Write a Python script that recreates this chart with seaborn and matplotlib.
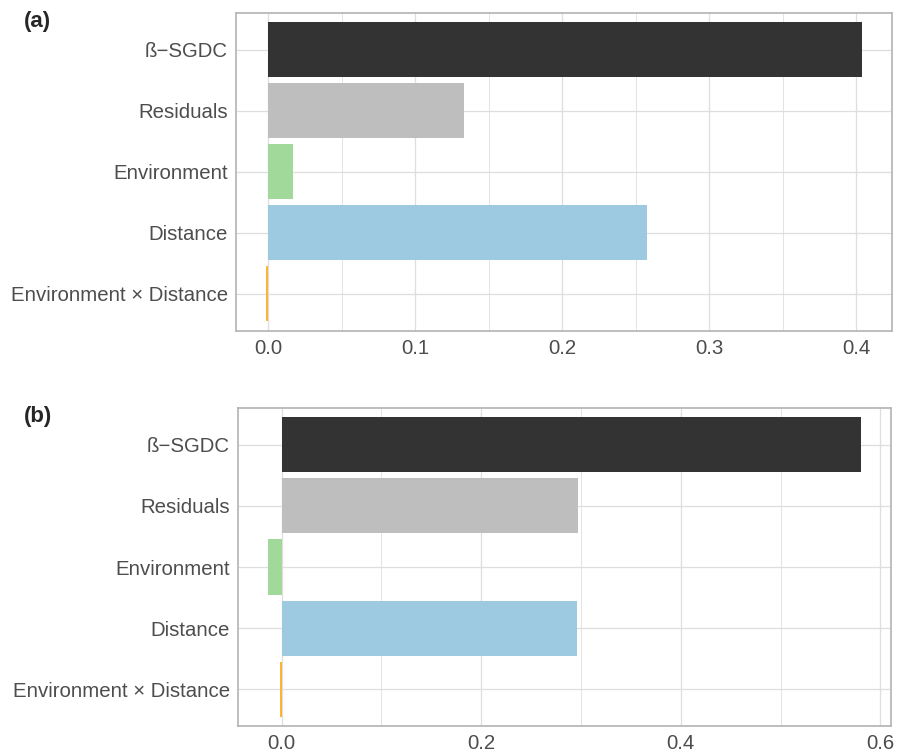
import matplotlib
matplotlib.use("Agg")
import matplotlib.pyplot as plt
import seaborn as sns
from matplotlib.ticker import MultipleLocator, FormatStrFormatter

sns.set_style("white")
plt.rcParams["font.family"] = ["Liberation Sans", "DejaVu Sans"]

categories = ["\u00df\u2212SGDC", "Residuals", "Environment", "Distance",
              "Environment \u00d7 Distance"]
colors = ["#333333", "#bebebe", "#a1d99b", "#9ecae1", "#fdb42f"]

values_a = [0.404, 0.133, 0.017, 0.258, -0.0015]
values_b = [0.581, 0.297, -0.014, 0.296, -0.0015]

fig = plt.figure(figsize=(9.12, 7.52), dpi=100)
ax_a = fig.add_axes([0.2588, 0.5605, 0.978 - 0.2588, 0.9824 - 0.5605])
ax_b = fig.add_axes([0.261, 0.0346, 0.977 - 0.261, 0.4574 - 0.0346])

grid_col = "#dedede"
border_col = "#b3b3b3"
text_col = "#4d4d4d"


def draw(ax, vals, major, minor, label):
    sns.barplot(x=vals, y=categories, hue=categories, palette=colors,
                width=0.9, legend=False, orient="h", ax=ax, zorder=3,
                saturation=1, linewidth=0, edgecolor="none")
    lo, hi = min(0, min(vals)), max(0, max(vals))
    pad = (hi - lo) * 0.05
    ax.set_xlim(lo - pad, hi + pad)
    ax.set_ylim(len(categories) - 0.4, -0.6)
    ax.xaxis.set_major_locator(MultipleLocator(major))
    ax.xaxis.set_minor_locator(MultipleLocator(minor))
    ax.grid(True, which="major", axis="both", color=grid_col, lw=0.9, zorder=0)
    ax.grid(True, which="minor", axis="x", color=grid_col, lw=0.6, zorder=0)
    ax.set_axisbelow(True)
    for s in ax.spines.values():
        s.set_color(border_col)
        s.set_linewidth(1.2)
    ax.tick_params(axis="both", which="major", length=4, color=border_col,
                   width=0.9, labelsize=14.7, labelcolor=text_col, pad=2)
    ax.tick_params(axis="x", which="minor", length=0)
    ax.xaxis.set_major_formatter(FormatStrFormatter("%.1f"))
    ax.set_xlabel("")
    ax.set_ylabel("")
    fig.text(0.026, ax.get_position().y1 + 0.003, label, fontsize=16,
             fontweight="bold", va="top", ha="left")


draw(ax_a, values_a, 0.1, 0.05, "(a)")
draw(ax_b, values_b, 0.2, 0.1, "(b)")

fig.savefig("out.png", dpi=100)
